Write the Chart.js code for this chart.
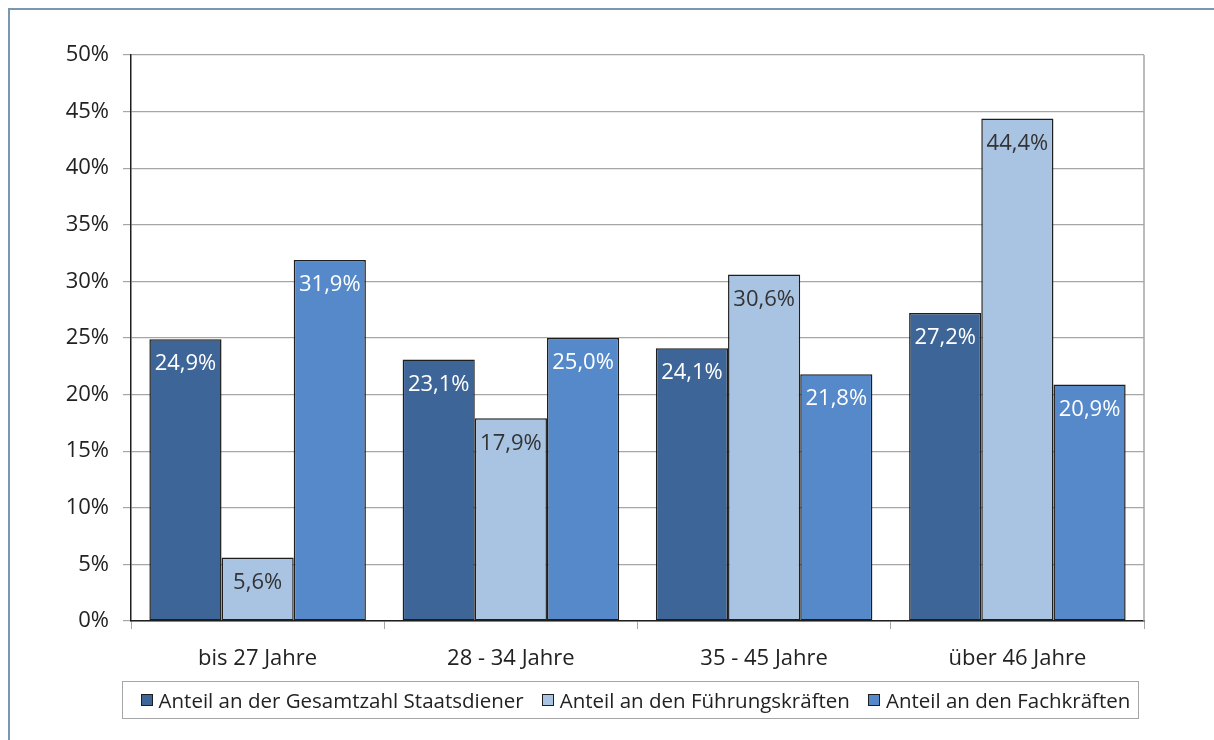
<!DOCTYPE html>
<html>
<head>
<meta charset="utf-8">
<script src="https://cdn.jsdelivr.net/npm/chart.js@4/dist/chart.umd.min.js"></script>
<style>
  html, body { margin: 0; padding: 0; background: #fff; }
  #frame { position: absolute; left: 8px; top: 8px; width: 1220px; height: 760px; border: 2px solid #7c95b1; box-sizing: border-box; }
  #wrap { position: absolute; left: 0; top: 0; width: 1214px; height: 740px; }
  #legend { position: absolute; left: 122px; top: 681px; width: 1017px; height: 38px; box-sizing: border-box;
            border: 1.5px solid #a6a6a6; display: flex; align-items: center; justify-content: center;
            font-family: "Open Sans", Lato, sans-serif; font-size: 20.5px; color: #222; gap: 18px; padding-left: 10px; }
  #legend span.item { display: flex; align-items: center; white-space: nowrap; }
  #legend span.box { width: 12px; height: 12px; border: 1.5px solid #1e1e1e; box-sizing: border-box; margin-right: 6px; }
</style>
</head>
<body>
<div id="frame"></div>
<div id="wrap"><canvas id="chart"></canvas></div>
<div id="legend"></div>
<script>
// age groups and shares (percent)
const categories = ['bis 27 Jahre', '28 - 34 Jahre', '35 - 45 Jahre', 'über 46 Jahre'];
const seriesNames = ['Anteil an der Gesamtzahl Staatsdiener', 'Anteil an den Führungskräften', 'Anteil an den Fachkräften'];
const gesamt = [24.9, 23.1, 24.1, 27.2];
const fuehrung = [5.6, 17.9, 30.6, 44.4];
const fach = [31.9, 25.0, 21.8, 20.9];

const colors = ['#3d6597', '#a9c4e3', '#5589c9'];
const labelColors = ['#ffffff', '#333333', '#ffffff'];
const fontFamily = '"Open Sans", Lato, sans-serif';

const fmt = (v) => v.toFixed(1).replace('.', ',') + '%';

// value labels inside the top of each bar
const barLabels = {
    id: 'barLabels',
    afterDatasetsDraw(chart) {
        const ctx = chart.ctx;
        ctx.save();
        ctx.font = '22px ' + fontFamily;
        ctx.textAlign = 'center';
        ctx.textBaseline = 'middle';
        chart.data.datasets.forEach((ds, i) => {
            chart.getDatasetMeta(i).data.forEach((bar, j) => {
                ctx.fillStyle = labelColors[i];
                ctx.fillText(fmt(ds.data[j]), bar.x, bar.y + 25);
            });
        });
        ctx.restore();
    }
};

// grey line on the right side of the plot
const rightEdge = {
    id: 'rightEdge',
    beforeDatasetsDraw(chart) {
        const { ctx, chartArea: a } = chart;
        ctx.save();
        ctx.strokeStyle = '#a6a6a6';
        ctx.lineWidth = 1.5;
        ctx.beginPath();
        ctx.moveTo(a.right, a.top);
        ctx.lineTo(a.right, a.bottom);
        ctx.stroke();
        ctx.restore();
    }
};

const chart = new Chart(document.getElementById('chart').getContext('2d'), {
    type: 'bar',
    data: {
        labels: categories,
        datasets: [gesamt, fuehrung, fach].map((d, i) => ({
            label: seriesNames[i],
            data: d,
            backgroundColor: colors[i],
            borderColor: '#1e1e1e',
            borderWidth: 1.5,
            borderSkipped: false,
            barPercentage: 1,
            categoryPercentage: 0.855
        }))
    },
    options: {
        responsive: true,
        maintainAspectRatio: false,
        animation: false,
        layout: { padding: { left: 0, right: 70, top: 55, bottom: 59 } },
        plugins: {
            tooltip: { enabled: false },
            legend: { display: false }
        },
        scales: {
            x: {
                afterFit: (s) => { s.height = 60; },
                grid: { display: true, drawOnChartArea: false, offset: true, tickLength: 8, color: '#a6a6a6' },
                border: { color: '#1e1e1e', width: 1.5 },
                ticks: { font: { family: fontFamily, size: 22 }, color: '#222', padding: 17 }
            },
            y: {
                min: 0,
                max: 50,
                afterFit: (s) => { s.width = 131; },
                ticks: {
                    stepSize: 5,
                    font: { family: fontFamily, size: 22 },
                    color: '#222',
                    padding: 14,
                    callback: (v) => v + '%'
                },
                grid: { color: '#a6a6a6', lineWidth: 1.2, tickLength: 8 },
                border: { color: '#1e1e1e', width: 1.5 }
            }
        }
    },
    plugins: [barLabels, rightEdge]
});

// legend built from the same series names and colours
const legendEl = document.getElementById('legend');
chart.data.datasets.forEach((ds, i) => {
    const item = document.createElement('span');
    item.className = 'item';
    const box = document.createElement('span');
    box.className = 'box';
    box.style.background = colors[i];
    item.appendChild(box);
    item.appendChild(document.createTextNode(ds.label));
    legendEl.appendChild(item);
});
</script>
</body>
</html>
